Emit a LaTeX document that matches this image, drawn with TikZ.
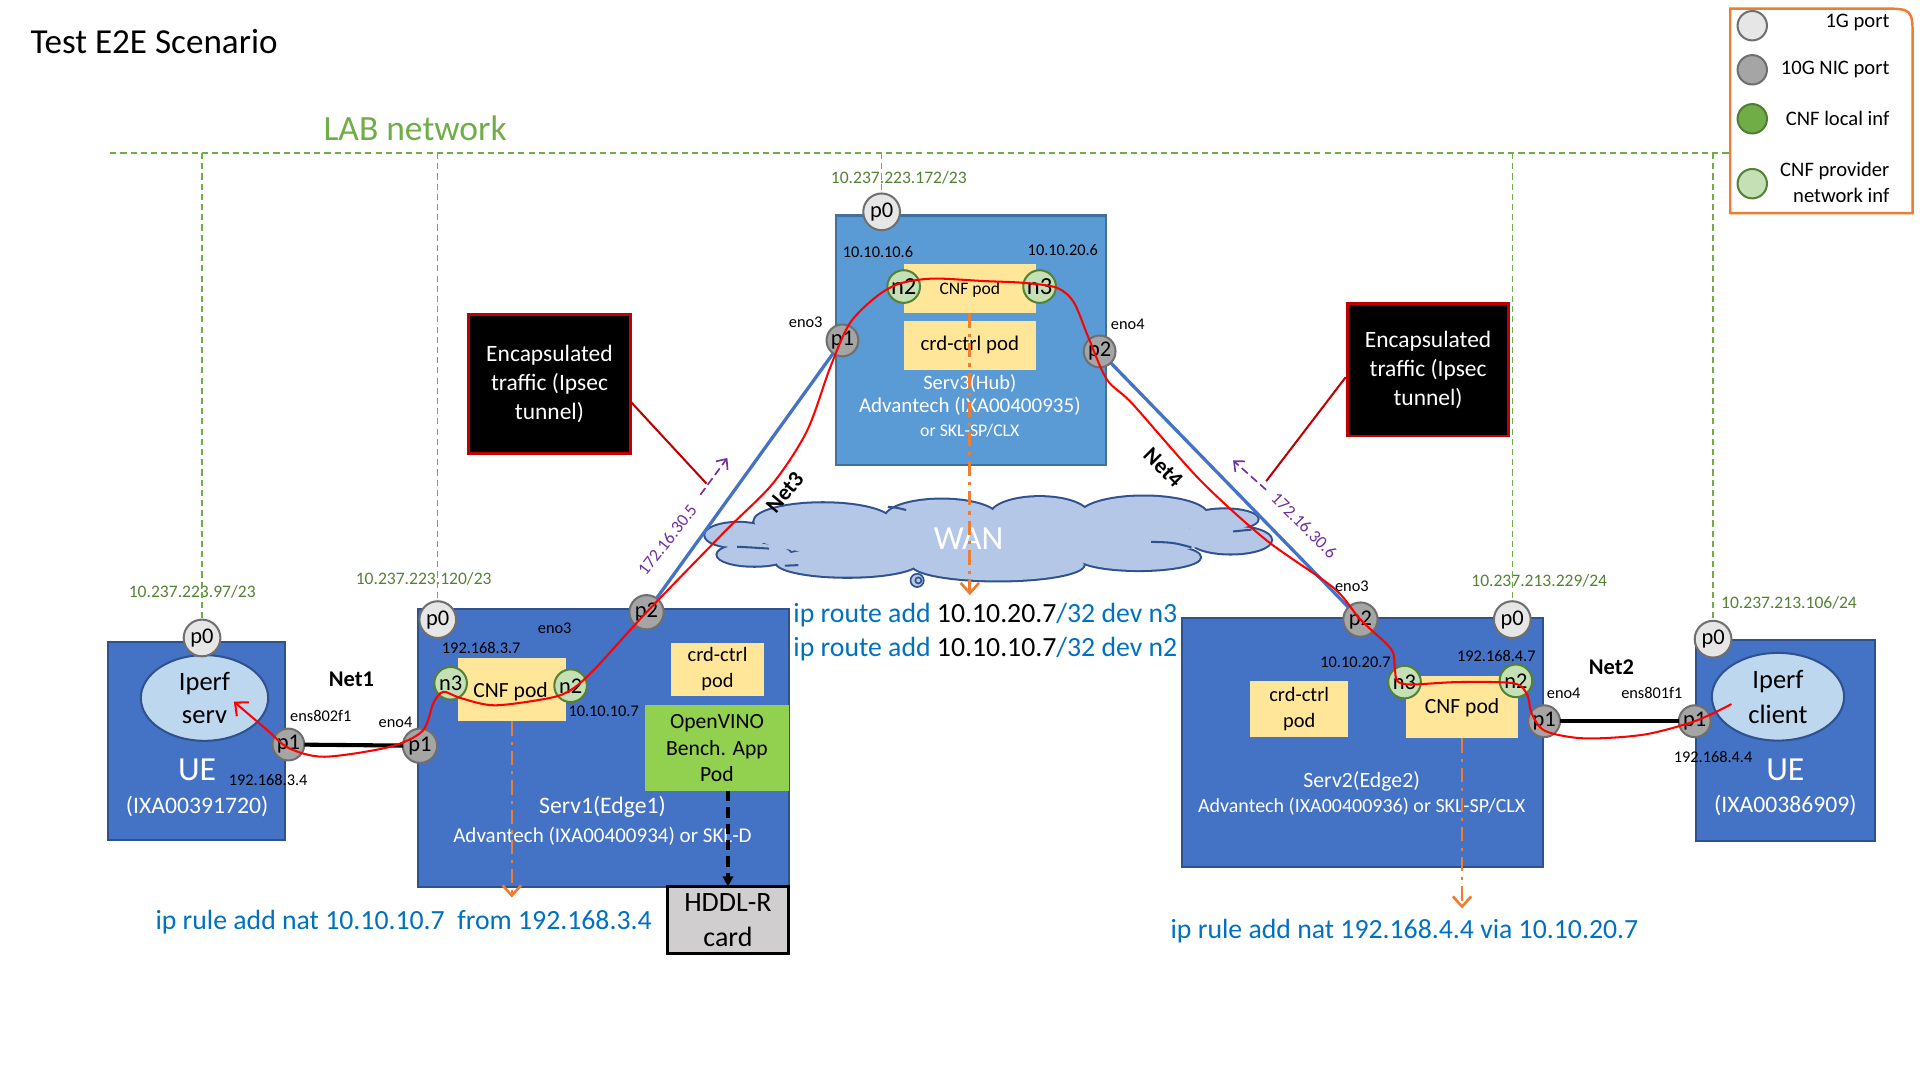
\documentclass[tikz,border=0pt]{standalone}
\usepackage{fontspec}
\setmainfont{Carlito}
\usetikzlibrary{arrows.meta,shapes.geometric,fit,calc}

\newcommand\fsz[2]{\fontsize{#1}{#2}\selectfont}

\definecolor{boxblue}{HTML}{4472C4}
\definecolor{boxedge}{HTML}{2F528F}
\definecolor{hubblue}{HTML}{5B9BD5}
\definecolor{hubedge}{HTML}{41719C}
\definecolor{portlight}{HTML}{E7E6E6}
\definecolor{portdark}{HTML}{A5A5A5}
\definecolor{portedge}{HTML}{6F6F6F}
\definecolor{cnflocal}{HTML}{70AD47}
\definecolor{cnflocaledge}{HTML}{507E32}
\definecolor{cnfprov}{HTML}{C5E0B4}
\definecolor{cnfedge}{HTML}{548235}
\definecolor{podyellow}{HTML}{FFE699}
\definecolor{vinogreen}{HTML}{92D050}
\definecolor{hddlgray}{HTML}{D0CECE}
\definecolor{ellfill}{HTML}{BDD7EE}
\definecolor{cloudfill}{HTML}{B4C7E7}
\definecolor{labgreen}{HTML}{70AD47}
\definecolor{ipgreen}{HTML}{548235}
\definecolor{cmdblue}{HTML}{0070C0}
\definecolor{purp}{HTML}{7030A0}
\definecolor{orng}{HTML}{ED7D31}
\definecolor{encred}{HTML}{C00000}

\begin{document}
\begin{tikzpicture}[x=0.6pt,y=-0.6pt,
  every node/.style={inner sep=0pt, outer sep=0pt},
  lbl/.style={font=\fsz{8pt}{9.6pt}},
  iplbl/.style={text=ipgreen, font=\fsz{8.6pt}{10pt}},
  wlbl/.style={text=white},
  srv/.style={draw=boxedge, fill=boxblue, line width=1pt},
  hub/.style={draw=hubedge, fill=hubblue, line width=1pt},
  pod/.style={fill=podyellow},
  portbase/.style={circle, line width=1pt, font=\fsz{11pt}{12pt}},
  port1g/.style={portbase, draw=portedge, fill=portlight, minimum size=18pt},
  port10g/.style={portbase, draw=portedge, fill=portdark, minimum size=15.6pt},
  cnfif/.style={portbase, draw=cnfedge, fill=cnfprov, minimum size=16pt},
  legtxt/.style={anchor=east, font=\fsz{10.1pt}{12.4pt}, align=right},
  uebox/.style={srv},
  iperf/.style={ellipse, draw=boxedge, fill=ellfill, line width=1pt, align=center},
  link/.style={line width=2pt, black},
  wanlink/.style={line width=1.6pt, boxblue},
  flow/.style={red, line width=1pt},
  nat/.style={orng, line width=1.3pt, dash pattern=on 7pt off 3pt on 1.5pt off 3pt,
    -{Straight Barb[length=5pt,width=9pt]}},
  encap/.style={fill=black, draw=encred, line width=1.4pt},
  enctxt/.style={text=white, align=center, font=\fsz{11.5pt}{14.2pt}},
  callout/.style={encred, line width=1pt},
  tunnel/.style={purp, line width=0.8pt, dash pattern=on 4pt off 2pt,
    -{Straight Barb[length=4pt,width=7pt]}},
  cmd/.style={anchor=west, text=cmdblue, font=\fsz{13.6pt}{16.8pt}},
  labdash/.style={labgreen, line width=0.6pt, dash pattern=on 3pt off 2pt},
  netlbl/.style={font=\bfseries\fsz{11pt}{12pt}},
  purplbl/.style={text=purp, font=\fsz{8.6pt}{10pt}},
  puffline/.style={boxedge, line width=2pt},
  cloudline/.style={boxedge, line width=1pt}
]
\useasboundingbox (0,0) rectangle (1568,882);

% ---------- title and lab network ----------
\node[anchor=west, font=\fsz{17.2pt}{20pt}] (title) at (25,34) {Test E2E Scenario};
\node[text=labgreen, font=\fsz{17.4pt}{20pt}] (labnet) at (339,105) {LAB network};
\coordinate (labL) at (90,125);
\coordinate (labR) at (1413,125);
\draw[labdash] (labL) -- (labR);

% ---------- legend ----------
\draw[orng, line width=1.2pt] (1413,174) -- (1413,7) -- (1536,7)
  .. controls (1562,7) .. (1562,33) -- (1562,174) -- cycle;
\node[portbase, draw=portedge, fill=portlight, minimum size=14.4pt] (lgA) at (1431,21) {};
\node[portbase, draw=portedge, fill=portdark, minimum size=14.4pt] (lgB) at (1431,57) {};
\node[portbase, draw=cnflocaledge, fill=cnflocal, minimum size=14.4pt] (lgC) at (1431,97) {};
\node[portbase, draw=cnfedge, fill=cnfprov, minimum size=14.4pt] (lgD) at (1431,150) {};
\node[legtxt] (lgAt) at (1543,18) {1G port};
\node[legtxt] (lgBt) at (1543,57) {10G NIC port};
\node[legtxt] (lgCt) at (1543,97) {CNF local inf};
\node[legtxt] (lgDt) at (1543,149) {CNF provider\\network inf};

% ---------- WAN cloud: union of puffs, outlined then filled ----------
\foreach \cx/\cy/\rx/\ry in {603/437/27/10, 616/453/30/9, 672/426/56/15, 769/423/46/15,
    849/421/40/15, 934/421/52/15.5, 692/459/58/12, 815/461/70/13, 930/455/50/10.5,
    1000/424/27/8, 1005/441/33/11}
  \draw[puffline] (\cx,\cy) ellipse [x radius=\rx, y radius=\ry];
\foreach \cx/\cy/\rx/\ry in {603/437/27/10, 616/453/30/9, 672/426/56/15, 769/423/46/15,
    849/421/40/15, 934/421/52/15.5, 692/459/58/12, 815/461/70/13, 930/455/50/10.5,
    1000/424/27/8, 1005/441/33/11, 806/440/185/18, 985/433/14/5.5}
  \fill[cloudfill] (\cx,\cy) ellipse [x radius=\rx, y radius=\ry];
% inner folds of the cloud
\draw[cloudline] (602,446.5) .. controls (612,447) .. (628,448);
\draw[cloudline] (725,414) .. controls (732,414.5) .. (740,416.5);
\draw[cloudline] (940,442.5) .. controls (958,443) .. (973,447);
\draw[cloudline] (1007,434) .. controls (1014,433) .. (1022,432.5);
\draw[cloudline] (641,462) .. controls (646,461.5) .. (652,461.5);
\node[text=white, font=\fsz{16.5pt}{18pt}] (wan) at (791,440) {WAN};
\node[circle, draw=boxedge, fill=cloudfill, line width=0.8pt, minimum size=6.5pt] (wanb) at (749,474) {};
\node[circle, draw=boxedge, line width=0.8pt, minimum size=3pt] (wanc) at (750,474) {};

% ---------- Serv3 (hub) ----------
\node[hub, fit={(683,176) (903,380)}] (serv3) {};
\node[pod, fit={(738,216) (846,256)}] (s3cnf) {};
\node[pod, fit={(738,262) (846,302)}] (s3crd) {};
\node[font=\fsz{8.6pt}{10pt}] (s3cnft) at (792,237) {CNF pod};
\node[font=\fsz{10.2pt}{12pt}] (s3crdt) at (s3crd) {crd-ctrl pod};
\node[wlbl, font=\fsz{10pt}{12pt}] (s3name) at (792,313) {Serv3(Hub)};
\node[wlbl, font=\fsz{10.3pt}{12pt}] (s3model) at (792,332) {Advantech (IXA00400935)};
\node[wlbl, font=\fsz{8.7pt}{10pt}] (s3alt) at (792,352) {or SKL-SP/CLX};
\node[lbl] (s3ipa) at (717,206) {10.10.10.6};
\node[lbl] (s3ipb) at (868,204) {10.10.20.6};
\node[lbl] (s3eno3) at (658,263) {eno3};
\node[lbl] (s3eno4) at (921,265) {eno4};
\node[iplbl] (s3mgmt) at (734,145) {10.237.223.172/23};

% ---------- Serv1 (edge1) ----------
\node[srv, fit={(341,497) (644,724)}] (serv1) {};
\node[pod, fit={(374,537) (462,589)}] (s1cnf) {};
\node[font=\fsz{10.6pt}{12pt}] (s1cnft) at (417,565) {CNF pod};
\node[pod, fit={(548,525) (624,568)}] (s1crd) {};
\node[align=center, font=\fsz{10pt}{12.6pt}] (s1crdt) at (s1crd) {crd-ctrl\\pod};
\node[fill=vinogreen, fit={(527,576) (644,646)}] (s1vino) {};
\node[align=center, font=\fsz{10.6pt}{12.9pt}] (s1vinot) at (s1vino) {OpenVINO\\Bench. App\\Pod};
\node[fill=hddlgray, draw=black, line width=1.5pt, fit={(545,724) (644,779)}] (hddl) {};
\node[align=center, font=\fsz{13.7pt}{16.8pt}] (hddlt) at (hddl) {HDDL-R\\card};
\node[wlbl, font=\fsz{11.6pt}{13pt}] (s1name) at (492,659) {Serv1(Edge1)};
\node[wlbl, font=\fsz{10.3pt}{12pt}] (s1model) at (492,683) {Advantech (IXA00400934) or SKL-D};
\node[lbl] (s1eno3) at (453,513) {eno3};
\node[lbl] (s1eno4) at (323,590) {eno4};
\node[lbl] (s1ipa) at (393,529) {192.168.3.7};
\node[lbl] (s1ipb) at (493,581) {10.10.10.7};
\node[iplbl] (s1mgmt) at (346,473) {10.237.223.120/23};

% ---------- UE (server side) ----------
\node[uebox, fit={(88,524) (233,686)}] (uel) {};
\node[iperf, minimum width=62.4pt, minimum height=42pt, font=\fsz{13pt}{16.2pt}] (iperfs) at (167,570) {Iperf\\serv};
\node[wlbl, font=\fsz{16.5pt}{18pt}] (uelname) at (161,629) {UE};
\node[wlbl, font=\fsz{11.6pt}{13pt}] (uelid) at (161,659) {(IXA00391720)};
\node[lbl] (uelens) at (262,585) {ens802f1};
\node[lbl] (uelip) at (219,637) {192.168.3.4};
\node[iplbl] (uelmgmt) at (157,483) {10.237.223.97/23};
\node[netlbl] (net1) at (287,555) {Net1};

% ---------- Serv2 (edge2) ----------
\node[srv, fit={(965,505) (1260,708)}] (serv2) {};
\node[pod, fit={(1148,552) (1240,603)}] (s2cnf) {};
\node[font=\fsz{10.6pt}{12pt}] (s2cnft) at (1194,578) {CNF pod};
\node[pod, fit={(1021,556) (1101,602)}] (s2crd) {};
\node[align=center, font=\fsz{10pt}{12.6pt}] (s2crdt) at (s2crd) {crd-ctrl\\pod};
\node[wlbl, font=\fsz{10.7pt}{12pt}] (s2name) at (1112,638) {Serv2(Edge2)};
\node[wlbl, font=\fsz{9.8pt}{12pt}] (s2model) at (1112,659) {Advantech (IXA00400936) or SKL-SP/CLX};
\node[lbl] (s2eno3) at (1104,479) {eno3};
\node[lbl] (s2eno4) at (1277,566) {eno4};
\node[lbl] (s2ipa) at (1107,541) {10.10.20.7};
\node[lbl] (s2ipb) at (1222,536) {192.168.4.7};
\node[iplbl] (s2mgmt) at (1257,474) {10.237.213.229/24};

% ---------- UE (client side) ----------
\node[uebox, fit={(1385,523) (1531,687)}] (uer) {};
\node[iperf, minimum width=64.8pt, minimum height=43pt, font=\fsz{13pt}{17pt}] (iperfc) at (1452,569) {Iperf\\client};
\node[wlbl, font=\fsz{16.5pt}{18pt}] (uername) at (1458,629) {UE};
\node[wlbl, font=\fsz{11.6pt}{13pt}] (uerid) at (1458,658) {(IXA00386909)};
\node[lbl] (uerens) at (1349,566) {ens801f1};
\node[lbl] (uerip) at (1399,618) {192.168.4.4};
\node[iplbl] (uermgmt) at (1461,492) {10.237.213.106/24};
\node[netlbl] (net2) at (1316,545) {Net2};

% ---------- ports ----------
\node[port1g] (s3p0) at (720,173) {p0};
\node[port10g] (s3p1) at (688,278) {p1};
\node[port10g] (s3p2) at (898,287) {p2};
\node[cnfif, font=\fsz{12pt}{13pt}] (s3n2) at (738,234) {n2};
\node[cnfif, font=\fsz{12pt}{13pt}] (s3n3) at (849,234) {n3};

\node[port1g] (s1p0) at (357.5,506) {p0};
\node[port10g, minimum size=16.8pt] (s1p2) at (528,500) {p2};
\node[port10g, minimum size=16.8pt] (s1p1) at (343,609) {p1};
\node[cnfif] (s1n3) at (368,558) {n3};
\node[cnfif] (s1n2) at (466,560) {n2};

\node[port1g] (uelp0) at (165,521) {p0};
\node[port10g] (uelp1) at (235.5,608) {p1};

\node[port10g, minimum size=16.8pt] (s2p2) at (1111,506) {p2};
\node[port1g] (s2p0) at (1235,506) {p0};
\node[port10g] (s2p1) at (1261,589) {p1};
\node[cnfif] (s2n3) at (1147,557) {n3};
\node[cnfif] (s2n2) at (1238,556) {n2};

\node[port1g] (uerp0) at (1399,522) {p0};
\node[port10g] (uerp1) at (1384,589) {p1};

% ---------- management network drops ----------
\draw[labdash] (uelp0.north |- labL) -- (uelp0.north);
\draw[labdash] (s1p0.north |- labL) -- (s1p0.north);
\draw[labdash] (s3p0.north |- labL) -- (s3p0.north);
\draw[labdash] (s2p0.north |- labL) -- (s2p0.north);
\draw[labdash] (uerp0.north |- labL) -- (uerp0.north);

% ---------- physical links ----------
\draw[link] (uelp1) -- (s1p1);
\draw[link] (s2p1) -- (uerp1);
\draw[wanlink] (s1p2) -- (s3p1);
\draw[wanlink] (s3p2) -- (s2p2);
\node[netlbl, rotate=50] (net3) at (641,402) {Net3};
\node[netlbl, rotate=-45] (net4) at (950,382) {Net4};
\node[purplbl, rotate=52] (tunipa) at (545,441) {172.16.30.5};
\node[purplbl, rotate=-45] (tunipb) at (1065,429) {172.16.30.6};

% ---------- NAT / route arrows ----------
\coordinate (s3natEnd) at (792,486);
\coordinate (s1natEnd) at (418,733);
\coordinate (s2natEnd) at (1194,742);
\draw[nat] (s3cnf.south) -- (s3natEnd);
\draw[nat] (s1cnf.south) -- (s1natEnd);
\draw[nat] (s2cnf.south) -- (s2natEnd);
\draw[black, line width=1.5pt, dash pattern=on 5pt off 3pt, -{Triangle[length=5pt,width=5pt]}]
  (s1vino.south -| hddl.north) -- (hddl.north);

% ---------- encapsulated traffic callouts ----------
\node[encap, fit={(382.5,257) (515,370)}] (encL) {};
\node[enctxt] (encLt) at (encL) {Encapsulated\\traffic (Ipsec\\tunnel)};
\node[encap, fit={(1100.5,248) (1232,356)}] (encR) {};
\node[enctxt] (encRt) at (encR) {Encapsulated\\traffic (Ipsec\\tunnel)};
\coordinate (calLa) at (515,328);
\coordinate (calLb) at (577,395);
\coordinate (calRa) at (1099,308);
\coordinate (calRb) at (1034,393);
\draw[callout] (calLa) -- (calLb);
\draw[callout] (calRa) -- (calRb);
\coordinate (tunLa) at (572,404);
\coordinate (tunLb) at (594,374);
\coordinate (tunRa) at (1034,400);
\coordinate (tunRb) at (1007,376);
\draw[tunnel] (tunLa) -- (tunLb);
\draw[tunnel] (tunRa) -- (tunRb);

% ---------- end-to-end traffic flow ----------
\coordinate (flowStart) at (1414,575);
\coordinate (flowEnd) at (191,573);
\draw[flow, -{Straight Barb[length=5pt,width=9pt]}] plot[smooth, tension=0.5] coordinates {
  (flowStart) (uerp1.center) (1342,600) (1294,603) (1262,597) (1251,583) (1247,567)
  (1236,558) (1191,557) (1152,559) (1141,556) (1139,545) (1136,530) (s2p2.center)
  (1089,480) (1034,441) (980,392) (925,330) (904,310) (889,276) (877,247) (863,235)
  (836,231) (803,229.5) (762,227.5) (735,231.5) (716,242) (694,264) (678,300) (659,352)
  (631,395) (593,433) (s1p2.center) (486,546) (467,563) (449,570) (404,576) (376,570)
  (362,565) (354,574) (345,597) (318,610) (265,618) (236,611) (218,596) (flowEnd)};

% ---------- routing commands ----------
\node[cmd] (cmdr1) at (648,502) {ip route add \textcolor{black}{10.10.20.7}/32 dev n3};
\node[cmd] (cmdr2) at (648,530) {ip route add \textcolor{black}{10.10.10.7}/32 dev n2};
\node[cmd] (cmdn1) at (127,753) {ip rule add nat 10.10.10.7 \ from 192.168.3.4};
\node[cmd] (cmdn2) at (956,760) {ip rule add nat 192.168.4.4 via 10.10.20.7};

\end{tikzpicture}
\end{document}
